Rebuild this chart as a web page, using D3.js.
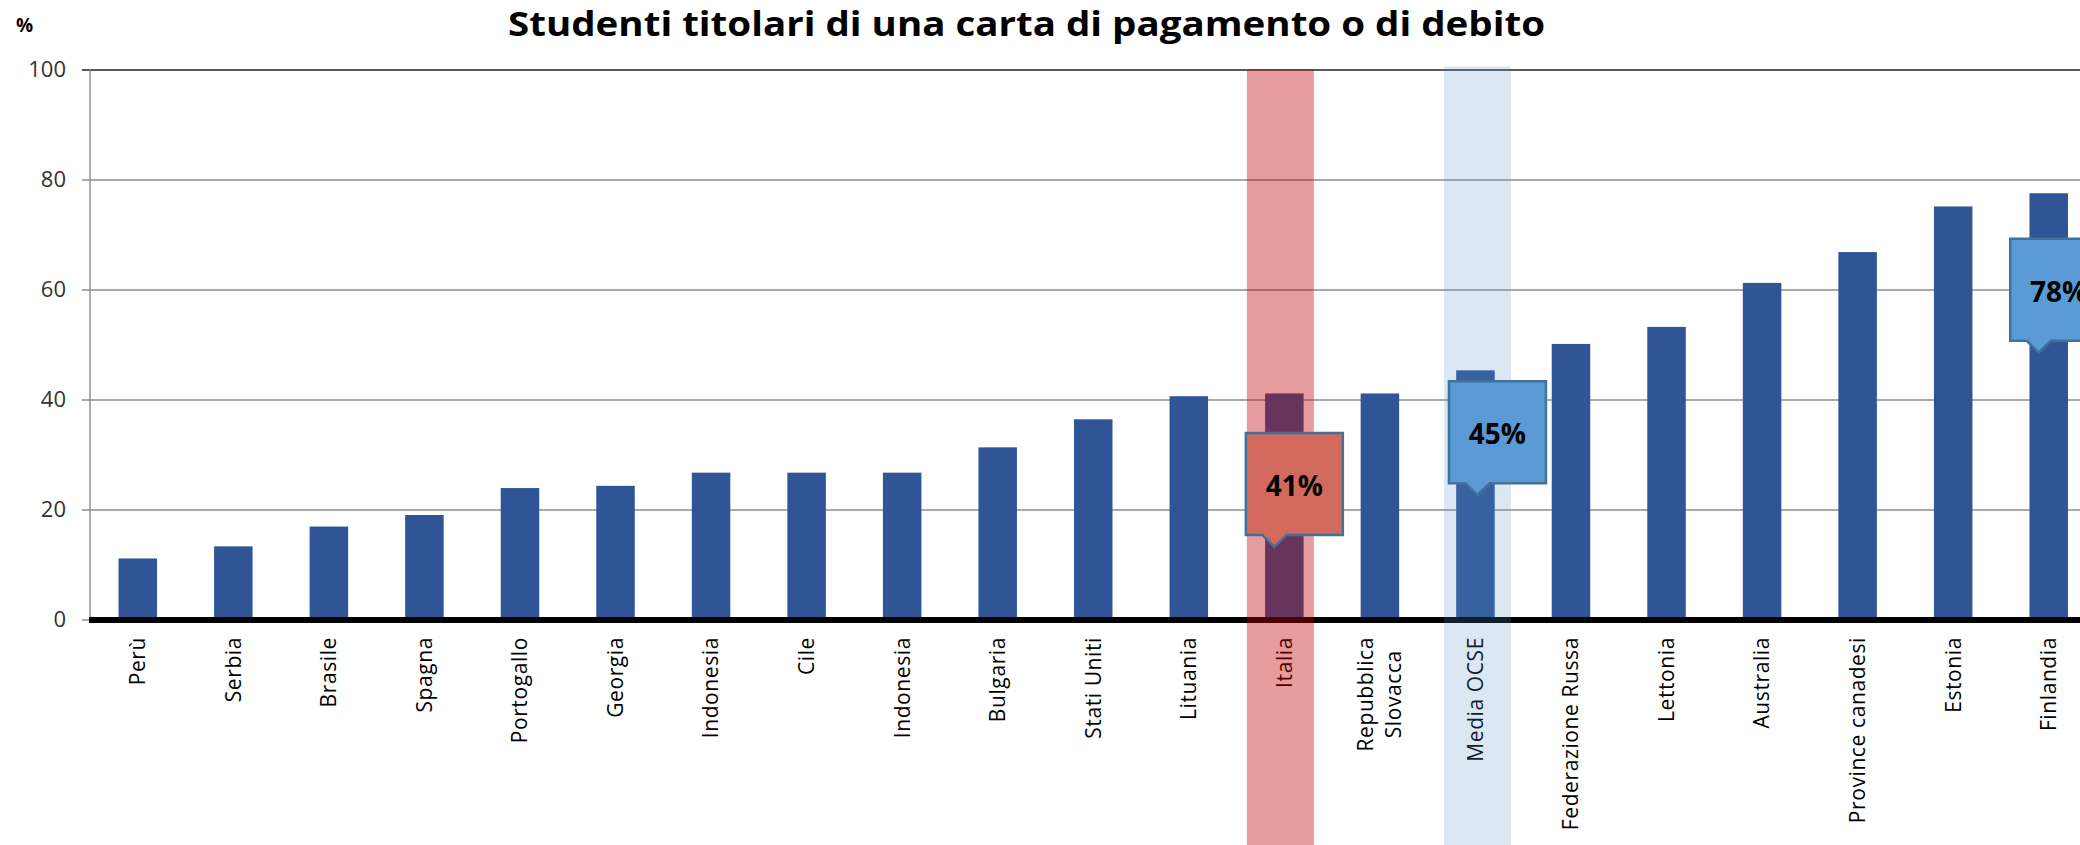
<!DOCTYPE html>
<html>
<head>
<meta charset="utf-8">
<script src="https://cdn.jsdelivr.net/npm/d3@7"></script>
<style>body { margin: 0; background: #fff; overflow: hidden; }</style>
</head>
<body>
<script>
    // data
    var countries = ['Perù', 'Serbia', 'Brasile', 'Spagna', 'Portogallo', 'Georgia', 'Indonesia',
        'Cile', 'Indonesia', 'Bulgaria', 'Stati Uniti', 'Lituania', 'Italia', 'Repubblica\nSlovacca',
        'Media OCSE', 'Federazione  Russa', 'Lettonia', 'Australia', 'Province canadesi', 'Estonia', 'Finlandia'];
    var values = [11.1, 13.3, 16.9, 19.0, 23.9, 24.3, 26.7, 26.7, 26.7, 31.3, 36.4,
        40.6, 41.1, 41.1, 45.3, 50.1, 53.2, 61.2, 66.8, 75.1, 77.5];
    var yTicks = [0, 20, 40, 60, 80, 100];

    var highlightItaly = 12;
    var highlightOecd = 14;

    var calloutBars = [12, 14, 20];
    var calloutLabels = ['41%', '45%', '78%'];
    var calloutTips = [13.2, 22.6, 48.5];   // y value where the pointer ends

    var title = 'Studenti titolari di una carta di pagamento o di debito';

    var svgWidth = 2080, svgHeight = 845;
    var svg = d3.select('body').append('svg')
        .attr('width', svgWidth)
        .attr('height', svgHeight)
        .style('display', 'block');

    var plot = { left: 90, right: 2096.5, top: 69.5, bottom: 619.5 };

    var xScale = d3.scaleBand()
        .domain(d3.range(countries.length))
        .range([plot.left, plot.right])
        .paddingInner(0.597)
        .paddingOuter(0.2985);

    var yScale = d3.scaleLinear()
        .domain([0, 100])
        .range([plot.bottom, plot.top]);

    function cx(i) { return xScale(i) + xScale.bandwidth() / 2; }

    // gridlines + y axis
    var yAxis = d3.axisLeft(yScale)
        .tickValues(yTicks)
        .tickSize(-(svgWidth - plot.left))
        .tickPadding(24)
        .tickFormat(d3.format('d'));

    var yAxisNodes = svg.append('g')
        .attr('transform', 'translate(' + plot.left + ',0)')
        .call(yAxis);
    yAxisNodes.select('.domain').remove();
    yAxisNodes.selectAll('.tick line')
        .attr('x1', -8)
        .attr('stroke', function (d) { return d === 100 ? '#595959' : '#8c8c8c'; })
        .attr('stroke-width', function (d) { return d === 100 ? 2.2 : 1.4; });
    yAxisNodes.selectAll('.tick text')
        .attr('font-family', 'Open Sans, sans-serif')
        .attr('font-size', 22)
        .attr('fill', '#333');

    svg.append('line')
        .attr('x1', plot.left).attr('x2', plot.left)
        .attr('y1', plot.top).attr('y2', plot.bottom)
        .attr('stroke', '#8c8c8c')
        .attr('stroke-width', 1.4);

    // bars
    svg.append('g').selectAll('rect')
        .data(values)
        .enter()
        .append('rect')
        .attr('x', function (d, i) { return xScale(i); })
        .attr('y', function (d) { return yScale(d); })
        .attr('width', xScale.bandwidth())
        .attr('height', function (d) { return yScale(0) - yScale(d); })
        .attr('fill', '#2f5597');

    // thick zero line
    svg.append('line')
        .attr('x1', plot.left - 1).attr('x2', svgWidth)
        .attr('y1', yScale(0) + 0.5).attr('y2', yScale(0) + 0.5)
        .attr('stroke', '#000')
        .attr('stroke-width', 6);

    // category labels, rotated
    var labelTop = 637, lineGap = 28;
    var labels = svg.append('g')
        .attr('font-family', 'Open Sans, sans-serif')
        .attr('font-size', 21)
        .attr('letter-spacing', 0.6)
        .attr('fill', '#000');

    countries.forEach(function (name, i) {
        var lines = name.split('\n');
        var t = labels.append('text')
            .attr('transform', 'translate(' + cx(i) + ',' + labelTop + ') rotate(-90)')
            .attr('text-anchor', lines.length > 1 ? 'middle' : 'end');
        lines.forEach(function (ln, k) {
            t.append('tspan')
                .attr('x', 0)
                .attr('y', (k - (lines.length - 1) / 2) * lineGap)
                .attr('dy', '0.35em')
                .text(ln);
        });
        if (lines.length > 1) {
            var maxLen = d3.max(t.selectAll('tspan').nodes(), function (n) { return n.getComputedTextLength(); });
            t.selectAll('tspan').attr('x', -maxLen / 2);
        }
    });

    // highlight bands
    var bandWidth = 67;
    svg.append('rect')
        .attr('x', cx(highlightItaly) - bandWidth / 2 - 4)
        .attr('y', plot.top)
        .attr('width', bandWidth)
        .attr('height', svgHeight - plot.top)
        .attr('fill', '#bf0000')
        .attr('fill-opacity', 0.39);
    svg.append('rect')
        .attr('x', cx(highlightOecd) - bandWidth / 2 + 2)
        .attr('y', plot.top - 3)
        .attr('width', bandWidth)
        .attr('height', svgHeight - plot.top + 3)
        .attr('fill', '#5b8cca')
        .attr('fill-opacity', 0.21);

    // callouts
    var boxW = 97, boxH = 102;
    calloutBars.forEach(function (b, k) {
        var tx = cx(b) + (b === highlightOecd ? 2 : -10);
        var ty = yScale(calloutTips[k]);
        var left = tx - 28.5, right = left + boxW;
        var bottom = ty - 12, top = bottom - boxH;
        var path = 'M' + left + ',' + top + 'H' + right + 'V' + bottom +
            'H' + (tx + 12) + 'L' + tx + ',' + ty + 'L' + (tx - 12) + ',' + bottom +
            'H' + left + 'Z';
        svg.append('path')
            .attr('d', path)
            .attr('fill', b === highlightItaly ? '#d26a5e' : '#5b9bd5')
            .attr('stroke', '#41719c')
            .attr('stroke-width', 2.5);
        svg.append('text')
            .attr('x', left + boxW / 2)
            .attr('y', (top + bottom) / 2 + 2)
            .attr('dy', '0.35em')
            .attr('text-anchor', 'middle')
            .attr('font-family', 'Open Sans, sans-serif')
            .attr('font-weight', 'bold')
            .attr('font-size', 28)
            .attr('fill', '#000')
            .text(calloutLabels[k]);
    });

    // title and unit
    svg.append('text')
        .attr('x', 508)
        .attr('y', 36)
        .attr('font-family', 'Open Sans, sans-serif')
        .attr('font-weight', 'bold')
        .attr('font-size', 34)
        .attr('textLength', 1037)
        .attr('lengthAdjust', 'spacingAndGlyphs')
        .attr('fill', '#000')
        .text(title);

    svg.append('text')
        .attr('x', 16)
        .attr('y', 32)
        .attr('font-family', 'Open Sans, sans-serif')
        .attr('font-weight', 'bold')
        .attr('font-size', 19)
        .attr('fill', '#000')
        .text('%');
</script>
</body>
</html>
